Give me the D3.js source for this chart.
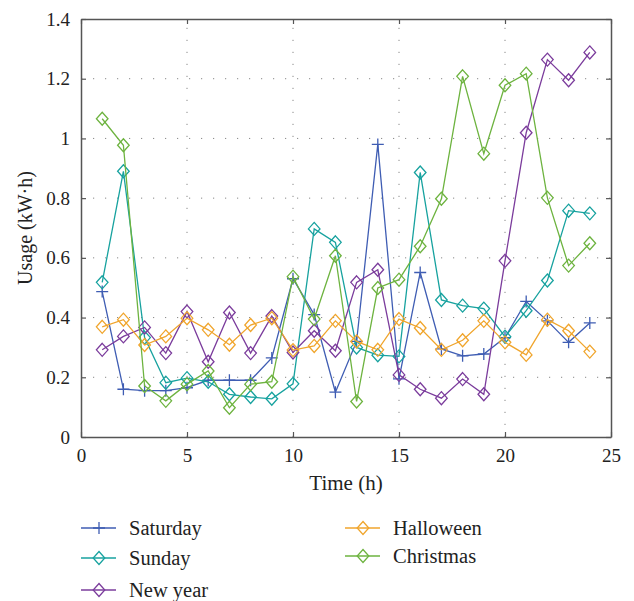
<!DOCTYPE html>
<html>
<head>
<meta charset="utf-8">
<script src="https://cdn.jsdelivr.net/npm/d3@7"></script>
<style>
  body { margin: 0; background: #fff; }
  text { font-family: "Liberation Serif", "DejaVu Serif", serif; fill: #222; }
</style>
</head>
<body>
<svg id="chart" width="634" height="601"></svg>
<script>
// hours 1..24
const hours = d3.range(1, 25);

const saturday  = [0.487, 0.16, 0.155, 0.155, 0.165, 0.19, 0.19, 0.19, 0.265, 0.53, 0.41, 0.15,
                   0.32, 0.98, 0.195, 0.551, 0.295, 0.272, 0.278, 0.333, 0.454, 0.389, 0.317, 0.382];
const sunday    = [0.518, 0.89, 0.333, 0.182, 0.197, 0.185, 0.143, 0.134, 0.128, 0.178, 0.697, 0.652,
                   0.30, 0.274, 0.27, 0.886, 0.459, 0.44, 0.43, 0.336, 0.423, 0.524, 0.758, 0.749];
const newYear   = [0.292, 0.337, 0.367, 0.281, 0.42, 0.252, 0.417, 0.281, 0.405, 0.283, 0.356, 0.289,
                   0.518, 0.56, 0.208, 0.16, 0.13, 0.194, 0.143, 0.59, 1.019, 1.264, 1.195, 1.288];
const halloween = [0.369, 0.393, 0.308, 0.337, 0.398, 0.359, 0.309, 0.375, 0.398, 0.291, 0.305, 0.389,
                   0.32, 0.292, 0.395, 0.365, 0.292, 0.324, 0.389, 0.317, 0.275, 0.393, 0.356, 0.286];
const christmas = [1.066, 0.977, 0.171, 0.121, 0.177, 0.221, 0.098, 0.177, 0.185, 0.537, 0.395, 0.607,
                   0.119, 0.499, 0.527, 0.639, 0.798, 1.208, 0.949, 1.178, 1.217, 0.801, 0.574, 0.649];

const xTicks = [0, 5, 10, 15, 20, 25];
const yTicks = [0, 0.2, 0.4, 0.6, 0.8, 1, 1.2, 1.4];

const series = [
  { name: "Saturday",  values: saturday,  color: "#3f5db3", marker: "plus" },
  { name: "Sunday",    values: sunday,    color: "#17a29f", marker: "diamond" },
  { name: "New year",  values: newYear,   color: "#7b3c9c", marker: "diamond" },
  { name: "Halloween", values: halloween, color: "#f0a52c", marker: "diamond" },
  { name: "Christmas", values: christmas, color: "#6db33f", marker: "diamond" }
];

const svg = d3.select("#chart");
const margin = { left: 81, right: 23, top: 19, bottom: 165 };
const W = 634, H = 601;

const x = d3.scaleLinear().domain([0, 25]).range([margin.left, W - margin.right]);
const y = d3.scaleLinear().domain([0, 1.4]).range([H - margin.bottom + 1, margin.top]);

// grid
const grid = svg.append("g");
grid.selectAll(".gx").data(xTicks.slice(1, -1)).join("line")
  .attr("x1", d => x(d)).attr("x2", d => x(d))
  .attr("y1", y(0)).attr("y2", y(1.4))
  .attr("stroke", "#888").attr("stroke-width", 1).attr("stroke-dasharray", "1.2,10.8");
grid.selectAll(".gy").data(yTicks.slice(1, -1)).join("line")
  .attr("y1", d => y(d)).attr("y2", d => y(d))
  .attr("x1", x(0)).attr("x2", x(25))
  .attr("stroke", "#888").attr("stroke-width", 1).attr("stroke-dasharray", "1.2,10.8");

// axes (ticks inward)
const axisStyle = g => {
  g.select(".domain").attr("stroke", "#555").attr("stroke-width", 1.5);
  g.selectAll(".tick line").attr("stroke", "#555").attr("stroke-width", 1.2);
  g.selectAll(".tick text").style("font-size", "19px").attr("fill", "#222");
};

svg.append("g").attr("transform", `translate(0,${y(0)})`)
  .call(d3.axisBottom(x).tickValues(xTicks).tickSize(-5).tickPadding(12).tickSizeOuter(0))
  .call(axisStyle);
svg.append("g").attr("transform", `translate(${x(0)},0)`)
  .call(d3.axisLeft(y).tickValues(yTicks).tickSize(-5).tickPadding(11).tickSizeOuter(0)
    .tickFormat(d => d === 0 ? "0" : d === 1 ? "1" : d3.format(".1f")(d)))
  .call(axisStyle);
svg.append("g").attr("transform", `translate(0,${y(1.4)})`)
  .call(d3.axisTop(x).tickValues(xTicks).tickSize(-5).tickFormat("").tickSizeOuter(0))
  .call(axisStyle);
svg.append("g").attr("transform", `translate(${x(25)},0)`)
  .call(d3.axisRight(y).tickValues(yTicks).tickSize(-5).tickFormat("").tickSizeOuter(0))
  .call(axisStyle);

// axis titles
svg.append("text").attr("x", (x(0) + x(25)) / 2).attr("y", 490)
  .attr("text-anchor", "middle").style("font-size", "21px").text("Time (h)");
svg.append("text").attr("transform", `translate(32,${(y(0) + y(1.4)) / 2}) rotate(-90)`)
  .attr("text-anchor", "middle").style("font-size", "20px").text("Usage (kW·h)");

// markers
function drawMarker(g, m, color) {
  if (m === "plus") {
    g.append("path").attr("d", "M-6,0H6M0,-6V6")
      .attr("stroke", color).attr("stroke-width", 1.3).attr("fill", "none");
  } else {
    g.append("path").attr("d", "M0,-6.5L5.8,0L0,6.5L-5.8,0Z")
      .attr("stroke", color).attr("stroke-width", 1.3).attr("fill", "none");
  }
}

const line = d3.line().x((d, i) => x(hours[i])).y(d => y(d));
const plot = svg.append("g");
series.forEach(s => {
  plot.append("path").datum(s.values).attr("d", line)
    .attr("fill", "none").attr("stroke", s.color).attr("stroke-width", 1.3);
  plot.selectAll(null).data(s.values).join("g")
    .attr("transform", (d, i) => `translate(${x(hours[i])},${y(d)})`)
    .each(function () { drawMarker(d3.select(this), s.marker, s.color); });
});

// legend
const legendPos = [
  { x: 81, y: 528 }, { x: 81, y: 558 }, { x: 81, y: 590 },
  { x: 345, y: 528 }, { x: 345, y: 556 }
];
const legend = svg.append("g");
series.forEach((s, i) => {
  const p = legendPos[i];
  const g = legend.append("g").attr("transform", `translate(${p.x},${p.y})`);
  g.append("line").attr("x1", 0).attr("x2", 35).attr("stroke", s.color).attr("stroke-width", 1.3);
  drawMarker(g.append("g").attr("transform", "translate(18,0)"), s.marker, s.color);
  g.append("text").attr("x", 48).attr("y", 6.5).style("font-size", "20.5px").text(s.name);
});
</script>
</body>
</html>
